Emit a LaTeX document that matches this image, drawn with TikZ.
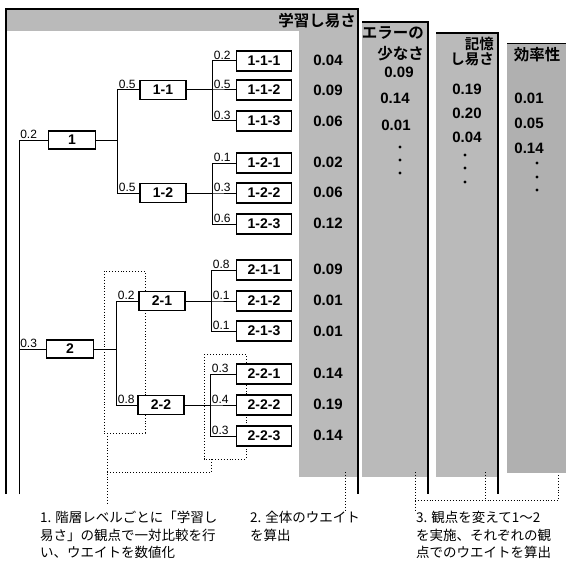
\documentclass[tikz,border=0pt]{standalone}
\usepackage{fontspec}
\setmainfont{Liberation Sans}
\newfontfamily\cjk{Noto Sans CJK JP}[BoldFont={Noto Sans CJK JP Bold}]
\usetikzlibrary{calc}
\begin{document}
\begin{tikzpicture}[x=1pt,y=-1pt,
 box/.style={draw, fill=white, line width=1.2pt, inner sep=0pt, font=\bfseries\fontsize{14}{15}\selectfont},
 bA/.style={box, minimum width=47pt, minimum height=18pt},
 bB/.style={box, minimum width=46pt, minimum height=19pt},
 bC/.style={box, minimum width=55pt, minimum height=20pt},
 wt/.style={anchor=south west, inner sep=0.8pt, font=\fontsize{12}{13}\selectfont},
 val/.style={font=\bfseries\fontsize{15}{16}\selectfont, inner sep=0pt},
 conn/.style={line width=1pt},
 dotln/.style={dotted, line width=0.9pt},
 pane/.style={fill=black!27, draw=none},
 edgeln/.style={line width=1.8pt},
 hdr/.style={font=\cjk\bfseries\fontsize{15.5}{17}\selectfont, inner sep=0pt},
 captxt/.style={font=\cjk\fontsize{13.5}{17.5}\selectfont, align=left, anchor=north west, inner sep=0pt}
]
\fill[white] (0,0) rectangle (566,567);
\useasboundingbox (0,0) rectangle (566,567);

% panels
\fill[pane] (7,9) rectangle (358,31);
\fill[pane] (299,31) rectangle (357,477);
\draw[edgeln] (6,494) -- (6,9) -- (358,9) -- (358,494);
\fill[pane] (362,22) rectangle (427,477);
\draw[edgeln] (362,22) -- (428,22) -- (428,494);
\fill[pane] (436,33) rectangle (497,477);
\draw[edgeln] (436,33) -- (498,33) -- (498,494);
\fill[pane, fill=black!31] (507,43) rectangle (566,473);
\draw[line width=0.8pt] (507,43) -- (566,43);

% headers
\node[hdr, anchor=east] (h1) at (356,21) {学習し易さ};
\node[hdr, anchor=east] (h2a) at (424,33) {エラーの};
\node[hdr, anchor=east] (h2b) at (424,54) {少なさ};
\node[hdr, anchor=east, font=\cjk\bfseries\fontsize{14.5}{16}\selectfont] (h3a) at (494,43.5) {記憶};
\node[hdr, anchor=east, font=\cjk\bfseries\fontsize{14.5}{16}\selectfont] (h3b) at (494,59) {し易さ};
\node[hdr] (h4) at (537,55) {効率性};

% dotted grouping boxes
\draw[dotln] (104,271) rectangle (145,433);
\draw[dotln] (204,354) rectangle (246,459);

% tree nodes
\coordinate (root) at (19,494);
\node[bA] (n1) at (72,140) {1};
\node[bA] (n2) at (70,349) {2};
\node[bB] (n11) at (163,90) {1-1};
\node[bB] (n12) at (163,193) {1-2};
\node[bB] (n21) at (162,301) {2-1};
\node[bB] (n22) at (161,405) {2-2};
\node[bC] (n111) at (264,61) {1-1-1};
\node[bC] (n112) at (264,90) {1-1-2};
\node[bC] (n113) at (264,121) {1-1-3};
\node[bC] (n121) at (264,163) {1-2-1};
\node[bC] (n122) at (264,193) {1-2-2};
\node[bC] (n123) at (264,224) {1-2-3};
\node[bC] (n211) at (264,270) {2-1-1};
\node[bC] (n212) at (264,301) {2-1-2};
\node[bC] (n213) at (264,331) {2-1-3};
\node[bC] (n221) at (264,374) {2-2-1};
\node[bC] (n222) at (264,405) {2-2-2};
\node[bC] (n223) at (264,436) {2-2-3};

% connectors
\draw[conn] (root) |- node[wt,pos=0.5]{0.2} (n1.west);
\draw[conn] (root) |- node[wt,pos=0.5]{0.3} (n2.west);
\draw[conn] (n1.east) -- ++(21.5,0) |- node[wt,pos=0.5]{0.5} (n11.west);
\draw[conn] (n1.east) -- ++(21.5,0) |- node[wt,pos=0.5]{0.5} (n12.west);
\draw[conn] (n2.east) -- ++(22.5,0) |- node[wt,pos=0.5]{0.2} (n21.west);
\draw[conn] (n2.east) -- ++(22.5,0) |- node[wt,pos=0.5]{0.8} (n22.west);
\foreach \p/\c/\w in {n11/n111/0.2, n11/n112/0.5, n11/n113/0.3,
                      n12/n121/0.1, n12/n122/0.3, n12/n123/0.6,
                      n21/n211/0.8, n21/n212/0.1, n21/n213/0.1,
                      n22/n221/0.3, n22/n222/0.4, n22/n223/0.3}
  \draw[conn] (\p.east) -- ++(26,0) |- node[wt,pos=0.5]{\w} (\c.west);

% values
\foreach \y/\v [count=\i] in {60/0.04, 90/0.09, 121/0.06, 162/0.02, 192/0.06, 223/0.12,
                   269/0.09, 300/0.01, 331/0.01, 373/0.14, 404/0.19, 435/0.14}
  \node[val] (va\i) at (328,\y) {\v};
\node[val] (vb1) at (399,72) {0.09};
\node[val] (vb2) at (395,98) {0.14};
\node[val] (vb3) at (396,125) {0.01};
\node[val] (vc1) at (467,89) {0.19};
\node[val] (vc2) at (467,113) {0.20};
\node[val] (vc3) at (467,137) {0.04};
\node[val] (vd1) at (529,98) {0.01};
\node[val] (vd2) at (529,123) {0.05};
\node[val] (vd3) at (529,148) {0.14};
\foreach \y in {147,160,173} \fill (400,\y) circle (1.6);
\foreach \y in {155,168,182} \fill (465,\y) circle (1.6);
\foreach \y in {163,177,190} \fill (537,\y) circle (1.6);

% captions
\node[captxt] (c1) at (40,511) {1. 階層レベルごとに「学習し\\易さ」の観点で一対比較を行\\い、ウエイトを数値化};
\node[captxt] (c2) at (250,511) {2. 全体のウエイト\\を算出};
\node[captxt] (c3) at (416,511) {3. 観点を変えて1～2\\を実施、それぞれの観\\点でのウエイトを算出};

% dotted pointers to captions
\draw[dotln] (107,433) -- (107,505);
\draw[dotln] (211,459) -- (211,472) -- (107,472);
\draw[dotln] (345,472) -- (345,510);
\draw[dotln] (415,472) -- (415,512);
\draw[dotln] (415,500) -- (558,500);
\draw[dotln] (485,472) -- (485,500);
\draw[dotln] (558,475) -- (558,500);
\end{tikzpicture}
\end{document}
